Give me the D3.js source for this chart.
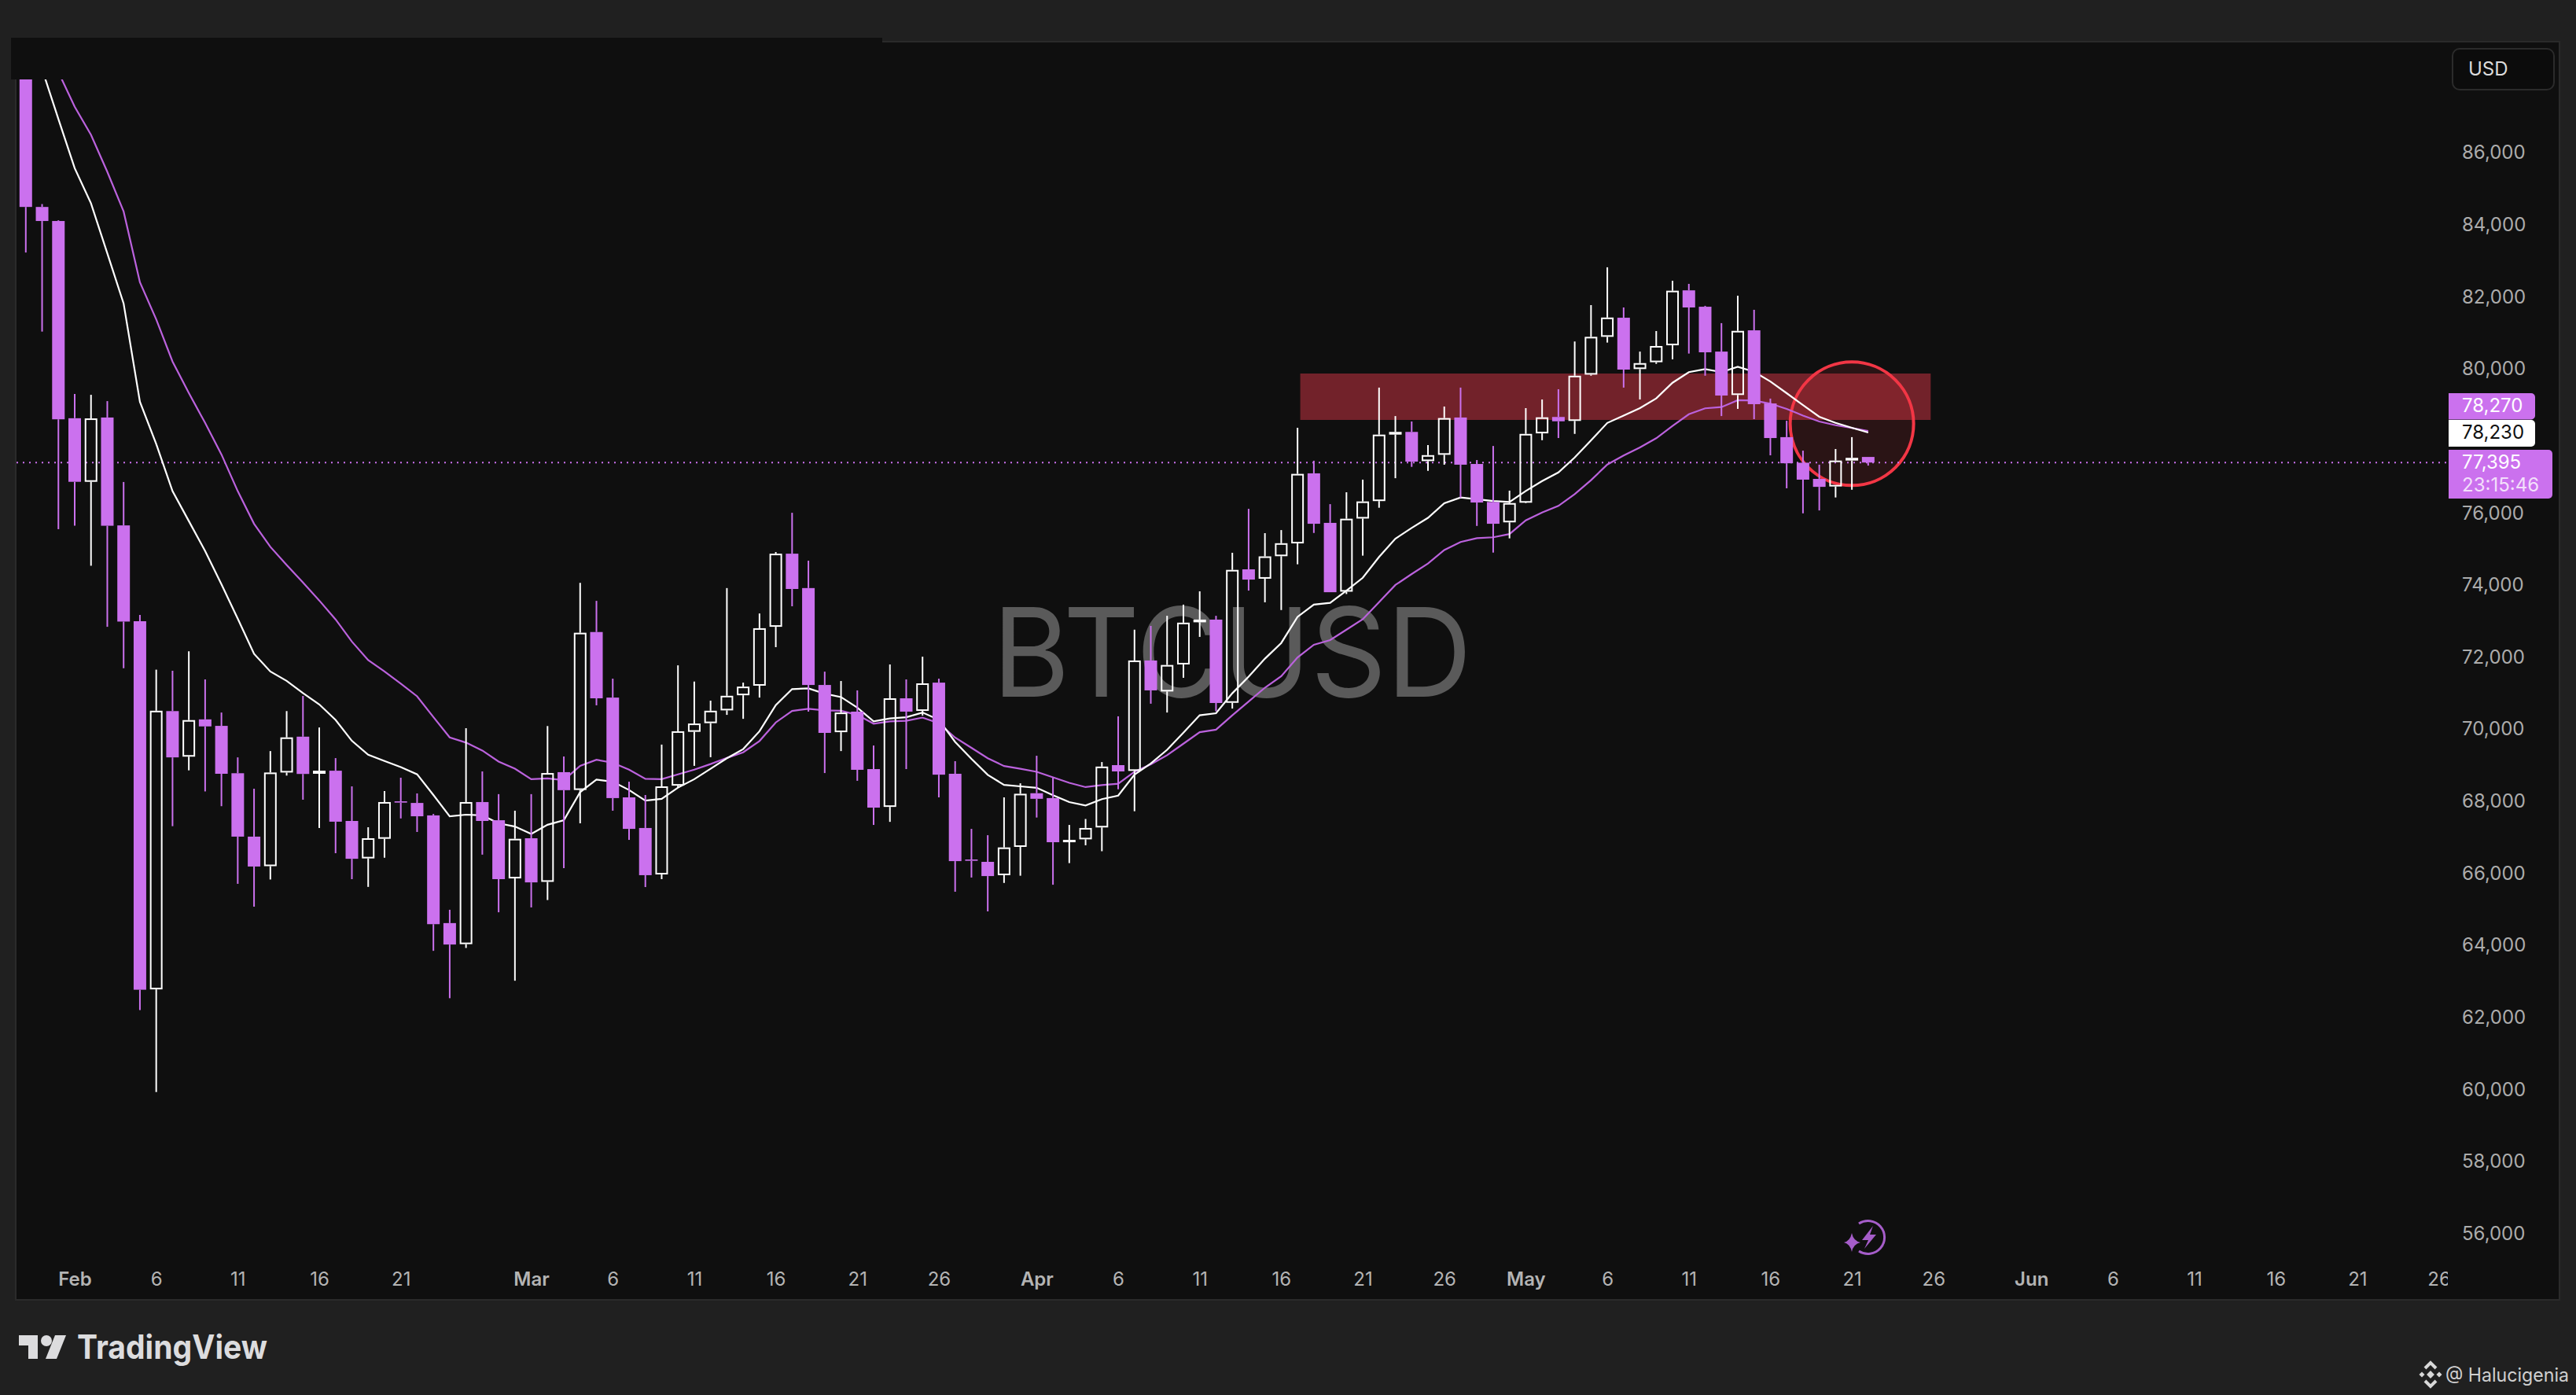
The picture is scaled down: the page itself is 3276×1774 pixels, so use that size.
<!DOCTYPE html>
<html>
<head>
<meta charset="utf-8">
<script src="https://d3js.org/d3.v7.min.js"></script>
<style>
html,body{margin:0;padding:0;background:#202020;}
svg{display:block;}
text{font-family:Inter,"Liberation Sans",sans-serif;}
</style>
</head>
<body>
<div id="chart"></div>
<script>
const firstDay = "2026-01-29";
const opens = [89300,84490,84100,78625,76860,78645,75650,72990,62770,70495,69230,70265,70085,68770,67010,66190,68790,69785,68755,68840,67445,66405,66950,67990,67945,67600,64610,64025,67970,
67465,65850,66965,65755,68800,68305,72690,70870,68100,67250,65960,68425,69920,70160,70515,70935,71200,72835,74865,73910,71220,69910,70480,68885,67835,70850,70500,71285,68755,66375,66310,65940,66725,68215,68080,66875,66935,67265,68995,68835,71900,71040,71790,72960,73035,70725,74430,74170,74795,75150,77095,75720,73810,75840,76325,78170,78245,77435,77610,78645,77355,76300,75735,76280,78205,78660,78550,79835,80885,81415,79990,80180,80650,82175,81720,80475,79270,81065,79035,78100,77390,76940,76730,77450,77550];
const closes = [84490,84100,78595,76860,78620,75640,72980,62760,70505,69210,70245,70070,68755,67010,66180,68790,69765,68750,68840,67425,66395,66965,67970,67955,67575,64580,64015,67970,67445,
65830,66950,65740,68775,68300,72670,70850,68080,67225,65940,68405,69935,70150,70505,70920,71175,72795,74865,73885,71220,69890,70455,68865,67815,70850,70480,71265,68730,66330,66340,65915,66710,68200,68060,66855,66920,67250,68955,68820,71900,71070,71775,72950,73035,70720,74415,74145,74790,75155,77080,75695,73795,75835,76315,78170,78245,77420,77600,78630,77335,76285,75695,76270,78190,78650,78540,79805,80885,81420,79975,80155,80630,82165,81700,80455,79255,81050,79015,78075,77375,76920,76720,77450,77525,77395];
const highs = [90400,84570,84120,79300,79275,79100,76855,73165,71645,71615,72155,71375,70455,69210,68340,69385,70495,70915,70040,69190,68405,67270,68275,68645,68210,67640,64980,70020,68820,
68190,67730,68190,70080,69235,74055,73555,71395,68535,68165,69565,71765,71315,70785,73910,71285,73205,74910,76000,74670,71590,71330,71070,69540,71790,71375,72005,71395,69105,67225,67050,68100,68490,69255,68645,67335,67500,69080,70350,72755,72860,73140,73450,73820,73140,74890,76110,75435,75520,78360,77445,76240,76570,76920,79475,78685,78535,77880,78950,79475,77465,77855,76615,78905,79145,79430,80755,81765,82815,81700,80475,81045,82440,82355,81745,81265,82025,81635,79170,78555,77725,77335,77770,78100,77550];
const lows = [83225,81030,75545,75640,74530,72835,71685,62195,59920,67300,68850,68265,67855,65700,65065,65820,68705,68035,67250,66550,65830,65615,66425,67515,67140,63840,62525,63920,66510,
64910,63010,65045,65250,66135,67380,70655,67730,66920,65610,65830,68360,68975,69215,70390,70280,70870,72270,73405,70480,68775,69385,68560,67335,67420,68885,70370,68100,65480,65875,64935,65725,65925,67540,65675,66275,66770,66605,68325,67715,70700,70455,71420,72555,70490,70565,73840,73515,73300,74570,75440,73795,73745,74810,76140,76960,77275,77165,77335,76415,75635,74895,75290,76265,78015,78075,78190,79805,80725,79475,79145,80135,80260,80420,79805,78685,78885,78600,77595,76680,75985,76065,76425,76640,77310];
const fastMA = [89690,88315,86930,85565,84590,83205,81810,79080,77910,76600,75770,74940,74015,73060,72085,71595,71335,70995,70680,70250,69670,69285,69110,68940,68740,68165,67575,67620,67600,67380,67290,67085,67340,67465,68245,68595,68535,68305,68010,68060,68370,68605,68895,69185,69440,69935,70660,71105,71125,70980,70885,70590,70210,70290,70325,70455,70255,69640,69170,68725,68445,68405,68365,68160,67970,67875,68050,68150,68730,69040,69420,69895,70380,70435,70990,71450,71950,72385,73110,73450,73500,73840,74195,74775,75280,75580,75860,76265,76425,76375,76325,76300,76605,76880,77120,77535,78010,78495,78700,78905,79175,79610,79905,79990,79905,80055,79915,79645,79320,78990,78665,78495,78360,78230];
const slowMA = [90890,89580,88235,87270,86490,85465,84365,82400,81370,80200,79325,78495,77620,76600,75695,75055,74550,74065,73565,73040,72425,71910,71595,71255,70905,70330,69765,69620,69400,69095,68895,68605,68625,68580,68975,69145,69060,68870,68615,68605,68740,68870,69025,69195,69350,69665,70180,70500,70560,70515,70505,70390,70145,70210,70225,70315,70160,69760,69475,69185,68970,68895,68810,68655,68505,68385,68440,68480,68810,69015,69270,69590,69910,69980,70380,70760,71145,71465,71985,72335,72465,72755,73045,73520,73995,74300,74590,74965,75190,75295,75320,75410,75790,76010,76190,76520,76905,77340,77590,77815,78070,78410,78735,78900,78935,79125,79115,79030,78885,78700,78535,78430,78355,78270];
const priceTicks = [56000,58000,60000,62000,64000,66000,68000,70000,72000,74000,76000,80000,82000,84000,86000];
const monthLabels = {"2026-02-01":"Feb","2026-03-01":"Mar","2026-04-01":"Apr","2026-05-01":"May","2026-06-01":"Jun"};
const dayTicks = ["2026-02-06","2026-02-11","2026-02-16","2026-02-21","2026-03-06","2026-03-11","2026-03-16","2026-03-21","2026-03-26","2026-04-06","2026-04-11","2026-04-16","2026-04-21","2026-04-26","2026-05-06","2026-05-11","2026-05-16","2026-05-21","2026-05-26","2026-06-06","2026-06-11","2026-06-16","2026-06-21","2026-06-26"];
const zoneDates = ["2026-04-17T04:00Z","2026-05-25T20:00Z"];
const zonePrices = [79866,78578];
const circleDate = "2026-05-21";
const circlePrice = 78473;
const lastPrice = 77395;
const slowLast = 78270;
const fastLast = 78230;
const countdown = "23:15:46";
const symbol = "BTCUSD";
const currency = "USD";
const brand = "TradingView";
const author = "@ Halucigenia";

const W = 3276, H = 1774;
const PURPLE = "#cb71ee", LINEP = "#bb62dd", RED = "#f23645", PANE = "#0f0f0f";
const day = 86400000;
const parse = s => new Date(s.length === 10 ? s + "T00:00Z" : s);
const x = d3.scaleUtc().domain([parse("2026-02-01"), parse("2026-06-26")]).range([95, 95 + 145 * 20.735]);
const y = d3.scaleLinear().domain([56000, 86000]).range([194 + 30000 * 0.04581, 194]);
const dates = opens.map((_, i) => new Date(parse(firstDay).getTime() + i * day));

const svg = d3.select("#chart").append("svg").attr("width", W).attr("height", H).attr("viewBox", `0 0 ${W} ${H}`);
const defs = svg.append("defs");
defs.append("clipPath").attr("id", "plot").append("rect").attr("x", 21).attr("y", 101).attr("width", 3093).attr("height", 1552);
defs.append("clipPath").attr("id", "timeclip").append("rect").attr("x", 21).attr("y", 1600).attr("width", 3092).attr("height", 52);

svg.append("rect").attr("width", W).attr("height", H).attr("fill", "#202020");
svg.append("rect").attr("x", 20).attr("y", 53).attr("width", 3235).attr("height", 1600).attr("fill", PANE).attr("stroke", "#2a2a2a").attr("stroke-width", 2);
svg.append("rect").attr("x", 14).attr("y", 48).attr("width", 1108).attr("height", 53).attr("fill", PANE);

// watermark
svg.append("text").attr("x", 1567).attr("y", 886).attr("text-anchor", "middle").attr("font-size", 157)
  .attr("fill", "#5a5a5a").attr("font-weight", 400).attr("textLength", 610).attr("lengthAdjust", "spacingAndGlyphs").text(symbol);

const plot = svg.append("g").attr("clip-path", "url(#plot)");

// resistance zone + circle
plot.append("rect").attr("x", x(parse(zoneDates[0]))).attr("width", x(parse(zoneDates[1])) - x(parse(zoneDates[0])))
  .attr("y", y(zonePrices[0])).attr("height", y(zonePrices[1]) - y(zonePrices[0])).attr("fill", "#72222a");
plot.append("circle").attr("cx", x(parse(circleDate))).attr("cy", y(circlePrice)).attr("r", 78.5)
  .attr("fill", RED).attr("fill-opacity", 0.12).attr("stroke", RED).attr("stroke-width", 4);

// last price line
plot.append("line").attr("x1", 21).attr("x2", 3114).attr("y1", y(lastPrice)).attr("y2", y(lastPrice))
  .attr("stroke", PURPLE).attr("stroke-width", 2).attr("stroke-dasharray", "2 6");

// moving averages
const line = d3.line().x((d, i) => x(dates[i])).y(d => y(d));
plot.append("path").attr("d", line(slowMA)).attr("fill", "none").attr("stroke", LINEP).attr("stroke-width", 2.2);
plot.append("path").attr("d", line(fastMA)).attr("fill", "none").attr("stroke", "#ffffff").attr("stroke-width", 2.2);

// candles
const candles = opens.map((o, i) => ({ date: dates[i], o, c: closes[i], h: highs[i], l: lows[i], up: closes[i] >= o }));
const g = plot.selectAll("g.candle").data(candles).join("g").attr("class", "candle");
g.append("line").attr("class", "wick")
  .attr("x1", d => x(d.date)).attr("x2", d => x(d.date))
  .attr("y1", d => y(d.h)).attr("y2", d => y(Math.max(d.o, d.c)))
  .attr("stroke", d => d.up ? "#fff" : PURPLE).attr("stroke-width", 2);
g.append("line").attr("class", "wick")
  .attr("x1", d => x(d.date)).attr("x2", d => x(d.date))
  .attr("y1", d => y(Math.min(d.o, d.c))).attr("y2", d => y(d.l))
  .attr("stroke", d => d.up ? "#fff" : PURPLE).attr("stroke-width", 2);
g.append("rect")
  .attr("x", d => x(d.date) - (d.up ? 7 : 8))
  .attr("width", d => d.up ? 14 : 16)
  .attr("y", d => y(Math.max(d.o, d.c)) + (d.up ? 1 : 0))
  .attr("height", d => Math.max(d.up ? 1 : 1.5, Math.abs(y(d.o) - y(d.c)) - (d.up ? 2 : 0)))
  .attr("fill", d => d.up ? "none" : PURPLE)
  .attr("stroke", d => d.up ? "#fff" : "none")
  .attr("stroke-width", 2);

// price axis
const yAxis = d3.axisRight(y).tickValues(priceTicks).tickFormat(d3.format(",")).tickSize(0).tickPadding(0);
const yg = svg.append("g").attr("transform", "translate(3131,0.3)").call(yAxis);
yg.select(".domain").remove();
yg.selectAll("text").attr("fill", "#acacac").attr("font-size", 24).attr("font-family", "Inter,'Liberation Sans',sans-serif");

// time axis
const tickDates = Object.keys(monthLabels).concat(dayTicks).map(parse);
const xAxis = d3.axisBottom(x).tickValues(tickDates).tickSize(0).tickPadding(0)
  .tickFormat(d => monthLabels[d.toISOString().slice(0, 10)] || d.getUTCDate());
const xg = svg.append("g").attr("clip-path", "url(#timeclip)").append("g").attr("transform", "translate(0,1618)").call(xAxis);
xg.select(".domain").remove();
xg.selectAll("text").attr("fill", "#b4b4b4").attr("font-size", 24).attr("font-family", "Inter,'Liberation Sans',sans-serif")
  .attr("font-weight", d => monthLabels[d.toISOString().slice(0, 10)] ? 600 : 400);

// currency button
svg.append("rect").attr("x", 3119).attr("y", 62).attr("width", 129).attr("height", 52).attr("rx", 9)
  .attr("fill", "#0c0c0c").attr("stroke", "#2b2b2b").attr("stroke-width", 2);
svg.append("text").attr("x", 3139).attr("y", 87).attr("dy", "0.36em").attr("font-size", 24).attr("fill", "#dcdcdc").text(currency);

// price badges
const badge = (yTop, h, w, fill) => svg.append("path")
  .attr("d", `M3114,${yTop}H${3114 + w - 5}a5,5 0 0 1 5,5V${yTop + h - 5}a5,5 0 0 1 -5,5H3114Z`).attr("fill", fill);
const fmt = d3.format(",");
badge(500, 33.5, 110, PURPLE);
badge(534, 34, 110, "#ffffff");
badge(572, 62, 132, PURPLE);
svg.append("text").attr("x", 3131).attr("y", 515.5).attr("dy", "0.36em").attr("font-size", 24).attr("fill", "#ffffff").text(fmt(slowLast));
svg.append("text").attr("x", 3131).attr("y", 549.5).attr("dy", "0.36em").attr("font-size", 24).attr("fill", "#111111").text(fmt(fastLast));
svg.append("text").attr("x", 3131).attr("y", 587.5).attr("dy", "0.36em").attr("font-size", 24).attr("fill", "#ffffff").text(fmt(lastPrice));
svg.append("text").attr("x", 3131).attr("y", 616).attr("dy", "0.36em").attr("font-size", 24).attr("fill", "#ffffff").attr("fill-opacity", 0.8).text(countdown);

// lightning badge
const ic = svg.append("g").attr("fill", "#a55dc9");
ic.append("path").attr("d", "M2364,1556 A21,21 0 1 1 2364,1591").attr("fill", "none").attr("stroke", "#a55dc9").attr("stroke-width", 3);
ic.append("path").attr("d", "M2382,1559 L2368,1577 H2376 L2371,1588 L2386,1570 H2378 Z");
ic.append("path").attr("d", "M2355,1568 Q2357,1578 2366,1580 Q2357,1582 2355,1592 Q2353,1582 2345,1580 Q2353,1578 2355,1568 Z");

// brand logo
const logo = svg.append("g").attr("fill", "#dcdcde");
logo.append("path").attr("d", "M24,1698H48V1728H36V1711H24Z");
logo.append("circle").attr("cx", 59).attr("cy", 1705).attr("r", 7);
logo.append("path").attr("d", "M70,1698H84L72,1728H58Z");
svg.append("text").attr("x", 98).attr("y", 1728).attr("font-size", 42).attr("font-weight", 700).attr("fill", "#dcdcde")
  .attr("textLength", 242).attr("lengthAdjust", "spacingAndGlyphs").text(brand);

// author tag
const bn = svg.append("g").attr("transform", "translate(3091,1748)");
bn.append("path").attr("d", "M-7,-8 L0,-15 L7,-8 M-7,8 L0,15 L7,8").attr("fill", "none").attr("stroke", "#d8d8d8").attr("stroke-width", 4);
[[0,0,3.5],[-11,0,2.5],[11,0,2.5]].forEach(([dx,dy,s]) => {
  bn.append("rect").attr("x", dx - s).attr("y", dy - s).attr("width", 2*s).attr("height", 2*s).attr("fill", "#d8d8d8")
    .attr("transform", `rotate(45 ${dx} ${dy})`);
});
svg.append("text").attr("x", 3110).attr("y", 1757).attr("font-size", 24).attr("font-family", "'Open Sans',sans-serif")
  .attr("fill", "#cfcfcf").attr("textLength", 157).attr("lengthAdjust", "spacingAndGlyphs").text(author);
</script>
</body>
</html>
